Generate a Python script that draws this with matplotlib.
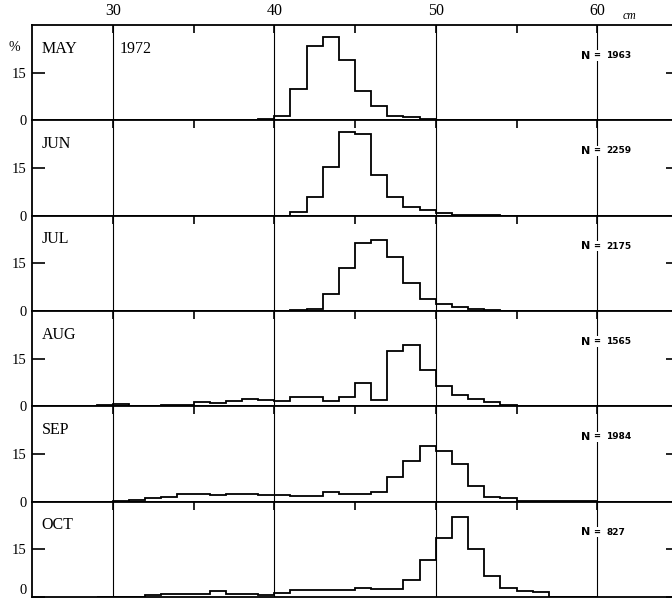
import numpy as np
import matplotlib
matplotlib.use("Agg")
from matplotlib import pyplot as plt

# body-length frequency (%) per 1 cm class, classes 29-30 ... 59-60 cm
edges = np.arange(29, 61)

months = ["MAY", "JUN", "JUL", "AUG", "SEP", "OCT"]
n_fish = ["1963", "2259", "2175", "1565", "1984", "827"]

may = [0, 0, 0, 0, 0, 0, 0, 0, 0, 0.1, 0.4, 1.5, 9.8, 23.5, 26.2, 19.1, 9.1, 4.6,
       1.5, 1.0, 0.4, 0.2, 0, 0, 0, 0, 0, 0, 0, 0, 0]
jun = [0, 0, 0, 0, 0, 0, 0, 0, 0, 0, 0, 0, 1.3, 5.8, 15.4, 26.4, 25.6, 12.8,
       6.0, 2.7, 1.8, 0.7, 0.3, 0.1, 0.1, 0, 0, 0, 0, 0, 0]
jul = [0, 0, 0, 0, 0, 0, 0, 0, 0, 0, 0, 0, 0.3, 0.7, 5.2, 13.5, 21.4, 22.4,
       17.0, 8.9, 3.9, 2.1, 1.2, 0.7, 0.4, 0.1, 0, 0, 0, 0, 0]
aug = [0.4, 0.8, 0.1, 0.1, 0.5, 0.5, 1.5, 1.2, 1.8, 2.4, 2.0, 1.7, 2.9, 2.9, 1.8,
       2.9, 7.5, 2.1, 17.5, 19.4, 11.5, 6.3, 3.7, 2.3, 1.4, 0.4, 0, 0, 0, 0, 0]
sep = [0, 0.2, 0.6, 1.3, 1.6, 2.3, 2.5, 2.1, 2.3, 2.3, 2.0, 2.2, 1.8, 1.8, 2.9,
       2.3, 2.3, 2.9, 7.8, 12.7, 17.5, 16.0, 12.0, 4.9, 1.6, 1.0, 0.3, 0.2, 0.1,
       0.1, 0.1]
oct_ = [0, 0, 0.1, 0.5, 0.8, 0.8, 0.8, 1.9, 1.1, 1.0, 0.5, 1.4, 2.2, 2.2, 2.1,
        2.2, 2.8, 2.6, 2.6, 5.4, 11.5, 18.5, 25.3, 15.1, 6.6, 2.7, 1.9, 1.6, 0,
        0, 0]
series = [may, jun, jul, aug, sep, oct_]

serif = ["Liberation Serif", "DejaVu Serif"]

W, H = 672, 603
fig = plt.figure(figsize=(W / 100, H / 100), dpi=100)
top_px, bot_px = 25, 597
ph = (bot_px - top_px) / 6
left = 32 / W
width = 646 / W

for i, (m, n, vals) in enumerate(zip(months, n_fish, series)):
    y0 = (H - top_px - (i + 1) * ph) / H
    ax = fig.add_axes([left, y0, width, ph / H])
    ax.set_xlim(25, 65)
    ax.set_ylim(0, 30)

    for x in [30, 40, 50, 60]:
        ax.axvline(x, color="black", lw=0.8, zorder=1)

    ax.stairs(vals, edges, color="black", lw=1.3, zorder=3)

    for s in ax.spines.values():
        s.set_linewidth(1.3)

    # x ticks: inward ticks on top of every panel
    ax.xaxis.tick_top()
    ax.set_xticks([30, 35, 40, 45, 50, 55, 60])
    ax.tick_params(axis="x", direction="in", length=6, width=1.2, pad=4)
    if i == 0:
        ax.set_xticklabels(["30", "", "40", "", "50", "", "60"],
                           family=serif, fontsize=11.5)
    else:
        ax.set_xticklabels([])

    ax.set_yticks([0, 15])
    ax.set_yticklabels(["0", "15"], family=serif, fontsize=10.5)
    ax.tick_params(axis="y", direction="in", length=9, width=1.2, pad=4,
                   right=True)
    if i == len(months) - 1:
        ax.get_yticklabels()[0].set_va("bottom")

    ax.text(25.6, 22.6, m, family=serif, fontsize=11.5, va="center")
    ax.text(59.0, 20.4, "N", fontsize=8, fontweight="bold", va="center",
            family=["DejaVu Sans"])
    ax.text(59.75, 20.4, "=", fontsize=6, fontweight="bold", va="center",
            family=["DejaVu Sans"],
            bbox=dict(facecolor="white", edgecolor="none", pad=0.5))
    ax.text(60.55, 20.4, n, fontsize=6.5, fontweight="bold", va="center",
            family=["DejaVu Sans"])

    if i == 0:
        ax.text(30.4, 22.6, "1972", family=serif, fontsize=11.5, va="center")
        ax.text(-0.027, 0.76, "%", transform=ax.transAxes, family=serif,
                fontsize=10, va="center", ha="center")
        ax.text(0.915, 1.09, "cm", transform=ax.transAxes, family=serif,
                fontsize=8.5, style="italic", va="center")

fig.savefig("out.png", dpi=100)
